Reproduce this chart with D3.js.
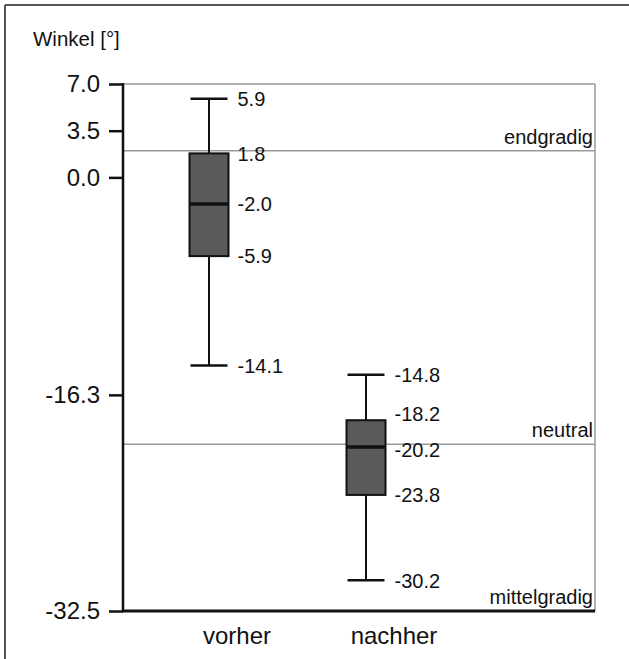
<!DOCTYPE html>
<html>
<head>
<meta charset="utf-8">
<script src="https://cdn.jsdelivr.net/npm/d3@7"></script>
<style>
  html, body { margin: 0; padding: 0; background: #fff; }
  svg { display: block; }
  text { font-family: "Liberation Sans", Arial, Helvetica, sans-serif; fill: #111; }
</style>
</head>
<body>
<svg id="chart" width="629" height="659"></svg>
<script>
// Box-plot summary of the angle before and after treatment
const categories = ["vorher", "nachher"];
const whiskerHigh = [5.9, -14.8];
const quartileHigh = [1.8, -18.2];
const medians = [-2.0, -20.2];
const quartileLow = [-5.9, -23.8];
const whiskerLow = [-14.1, -30.2];

// Y-axis ticks
const yTicks = [7.0, 3.5, 0.0, -16.3, -32.5];

// Reference grades drawn as horizontal lines
const refNames = ["endgradig", "neutral", "mittelgradig"];
const refValues = [2.0, -20.0, -32.5];

const axisTitle = "Winkel [°]";

// ---- layout ----
const W = 629, H = 659;
const plotLeft = 123, plotRight = 595, plotTop = 84, plotBottom = 611;
const boxW = 39, capW = 37;

const svg = d3.select("#chart");

// outer frame (top + left edges)
svg.append("line").attr("x1", 5).attr("x2", W).attr("y1", 5).attr("y2", 5)
  .attr("stroke", "#555").attr("stroke-width", 2);
svg.append("line").attr("x1", 5).attr("x2", 5).attr("y1", 5).attr("y2", H)
  .attr("stroke", "#555").attr("stroke-width", 2);

const y = d3.scaleLinear().domain([-32.5, 7.0]).range([plotBottom, plotTop]);
const x = d3.scalePoint().domain(categories).range([plotLeft + 86, plotLeft + 243]);

// grey plot frame (top + right)
svg.append("line").attr("x1", plotLeft).attr("x2", plotRight).attr("y1", y(7.0)).attr("y2", y(7.0))
  .attr("stroke", "#999").attr("stroke-width", 1.5);
svg.append("line").attr("x1", plotRight).attr("x2", plotRight).attr("y1", y(7.0)).attr("y2", plotBottom)
  .attr("stroke", "#999").attr("stroke-width", 1.5);

// reference lines and their labels
const refs = refNames.map((n, i) => ({ name: n, v: refValues[i] }));
svg.selectAll("line.ref").data(refs.filter(d => d.v > -32.5)).join("line")
  .attr("class", "ref")
  .attr("x1", plotLeft).attr("x2", plotRight)
  .attr("y1", d => y(d.v)).attr("y2", d => y(d.v))
  .attr("stroke", "#999").attr("stroke-width", 1.5);
svg.selectAll("text.ref").data(refs).join("text")
  .attr("class", "ref")
  .attr("x", plotRight - 2)
  .attr("y", d => y(d.v) - 7)
  .attr("text-anchor", "end")
  .attr("font-size", 20)
  .text(d => d.name);

// axes
const yAxis = d3.axisLeft(y).tickValues(yTicks).tickFormat(d3.format(".1f"))
  .tickSize(14).tickPadding(9);
const gy = svg.append("g").attr("transform", `translate(${plotLeft},0)`).call(yAxis);
gy.select(".domain").remove();
gy.selectAll(".tick line").attr("stroke", "#111").attr("stroke-width", 2.5);
gy.selectAll(".tick text").attr("font-size", 24).attr("fill", "#111")
  .attr("font-family", "Liberation Sans, Arial, sans-serif")
  .text(d => d3.format(".1f")(d).replace("−", "-"));

svg.append("line").attr("x1", plotLeft).attr("x2", plotLeft).attr("y1", plotTop - 1).attr("y2", plotBottom)
  .attr("stroke", "#111").attr("stroke-width", 2.5);
svg.append("line").attr("x1", plotLeft - 1).attr("x2", plotRight).attr("y1", plotBottom).attr("y2", plotBottom)
  .attr("stroke", "#111").attr("stroke-width", 3);

// category labels
svg.selectAll("text.cat").data(categories).join("text")
  .attr("class", "cat")
  .attr("x", d => x(d) + 28)
  .attr("y", plotBottom + 33)
  .attr("text-anchor", "middle")
  .attr("font-size", 24)
  .text(d => d);

// axis title
svg.append("text").attr("x", 33).attr("y", 46).attr("font-size", 20.5).text(axisTitle);

// boxes
const stats = categories.map((c, i) => ({
  c, hi: whiskerHigh[i], q3: quartileHigh[i], med: medians[i], q1: quartileLow[i], lo: whiskerLow[i]
}));
const g = svg.selectAll("g.box").data(stats).join("g").attr("class", "box")
  .attr("transform", d => `translate(${x(d.c)},0)`);

g.append("line").attr("x1", 0).attr("x2", 0)
  .attr("y1", d => y(d.hi)).attr("y2", d => y(d.lo))
  .attr("stroke", "#111").attr("stroke-width", 2);
g.append("line").attr("x1", -capW / 2).attr("x2", capW / 2)
  .attr("y1", d => y(d.hi)).attr("y2", d => y(d.hi))
  .attr("stroke", "#111").attr("stroke-width", 2.5);
g.append("line").attr("x1", -capW / 2).attr("x2", capW / 2)
  .attr("y1", d => y(d.lo)).attr("y2", d => y(d.lo))
  .attr("stroke", "#111").attr("stroke-width", 2.5);
g.append("rect").attr("x", -boxW / 2).attr("width", boxW)
  .attr("y", d => y(d.q3)).attr("height", d => y(d.q1) - y(d.q3))
  .attr("fill", "#5a5a5a").attr("stroke", "#111").attr("stroke-width", 2);
g.append("line").attr("x1", -boxW / 2).attr("x2", boxW / 2)
  .attr("y1", d => y(d.med)).attr("y2", d => y(d.med))
  .attr("stroke", "#111").attr("stroke-width", 3.5);

// value labels beside each box; crowded labels get nudged apart
const fmt = v => d3.format(".1f")(v).replace("−", "-");
g.each(function (d) {
  const vals = [d.hi, d.q3, d.med, d.q1, d.lo];
  const sel = d3.select(this);
  vals.forEach((v, k) => {
    let dy = 0;
    if (k === 1 && y(d.med) - y(d.q3) < 30) dy = -6;
    if (k === 2 && y(d.med) - y(d.q3) < 30) dy = 3;
    sel.append("text")
      .attr("x", capW / 2 + 10)
      .attr("y", y(v) + dy)
      .attr("dy", "0.36em")
      .attr("font-size", 20)
      .text(fmt(v));
  });
});
</script>
</body>
</html>
